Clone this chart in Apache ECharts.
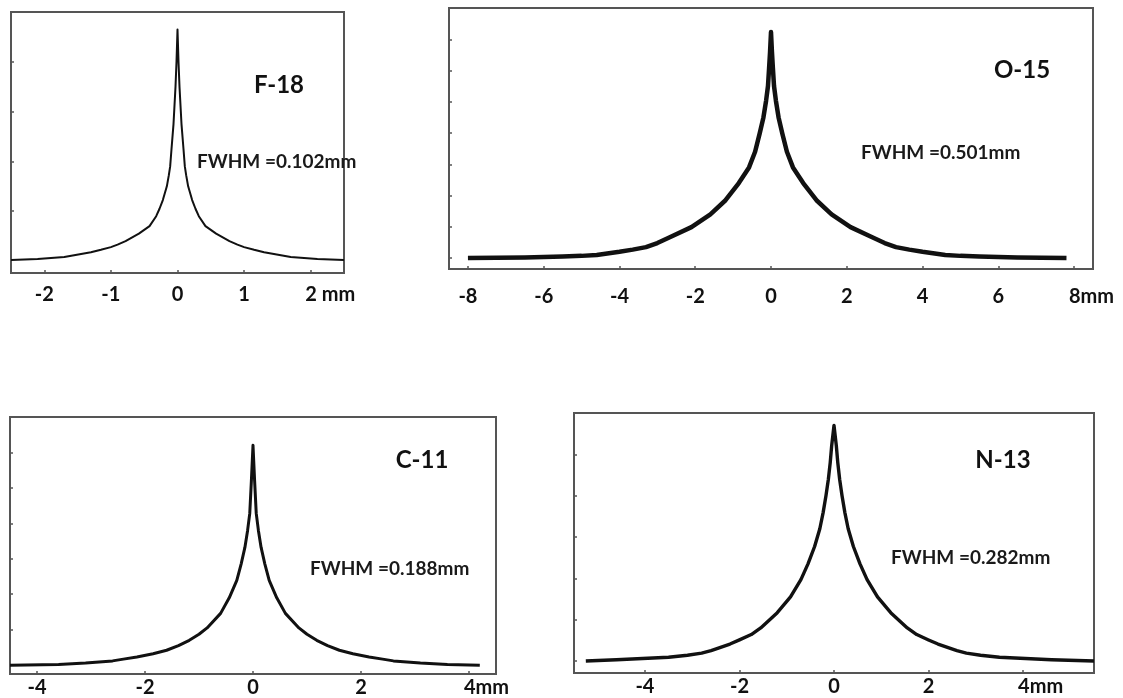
<!DOCTYPE html>
<html>
<head>
<meta charset="utf-8">
<title>Line spread functions</title>
<script src="https://cdn.jsdelivr.net/npm/echarts@6.0.0/dist/echarts.min.js"></script>
<style>
  html, body { margin: 0; padding: 0; background: #fff; }
  #main { width: 1123px; height: 698px; }
</style>
</head>
<body>
<div id="main"></div>
<script>
// profiles: x in mm, y in tick units above the baseline
var f18X = [-2.5, -2.1, -1.7, -1.3, -1.15, -1.0, -0.9, -0.78, -0.68, -0.58, -0.5, -0.42, -0.32, -0.27, -0.22, -0.16, -0.13, -0.11, -0.09, -0.06, -0.03, -0.015, 0, 0.015, 0.03, 0.06, 0.09, 0.11, 0.13, 0.16, 0.22, 0.27, 0.32, 0.42, 0.5, 0.58, 0.68, 0.78, 0.9, 1.0, 1.15, 1.3, 1.7, 2.1, 2.5];
var f18Y = [0.004, 0.008, 0.016, 0.035, 0.045, 0.056, 0.066, 0.08, 0.095, 0.11, 0.125, 0.14, 0.18, 0.21, 0.245, 0.30, 0.345, 0.38, 0.45, 0.55, 0.70, 0.80, 0.93, 0.80, 0.70, 0.55, 0.45, 0.38, 0.345, 0.30, 0.245, 0.21, 0.18, 0.14, 0.125, 0.11, 0.095, 0.08, 0.066, 0.056, 0.045, 0.035, 0.016, 0.008, 0.004];

var o15X = [-8, -6.5, -5.5, -5.0, -4.6, -4, -3.65, -3.3, -3.0, -2.7, -2.1, -1.6, -1.2, -0.85, -0.58, -0.42, -0.3, -0.2, -0.13, -0.08, -0.05, -0.025, 0, 0.025, 0.05, 0.08, 0.13, 0.2, 0.3, 0.42, 0.58, 0.85, 1.2, 1.6, 2.1, 2.7, 3.0, 3.3, 3.65, 4, 4.6, 5.0, 5.5, 6.5, 7.8];
var o15Y = [0.0, 0.02, 0.05, 0.07, 0.1, 0.2, 0.27, 0.35, 0.48, 0.65, 0.99, 1.4, 1.85, 2.4, 2.9, 3.4, 3.98, 4.5, 5.03, 5.5, 6.08, 6.6, 7.23, 6.6, 6.08, 5.5, 5.03, 4.5, 3.98, 3.4, 2.9, 2.4, 1.85, 1.4, 0.99, 0.65, 0.48, 0.35, 0.27, 0.2, 0.1, 0.07, 0.05, 0.02, 0.0];

var c11X = [-4.5, -3.6, -3.1, -2.6, -2.4, -2.15, -1.85, -1.6, -1.38, -1.18, -1.0, -0.85, -0.6, -0.44, -0.3, -0.22, -0.15, -0.1, -0.06, -0.03, 0, 0.03, 0.06, 0.1, 0.15, 0.22, 0.3, 0.44, 0.6, 0.85, 1.0, 1.18, 1.38, 1.6, 1.85, 2.15, 2.4, 2.6, 3.1, 3.6, 4.2];
var c11Y = [0.0, 0.02, 0.06, 0.12, 0.17, 0.23, 0.32, 0.42, 0.55, 0.7, 0.87, 1.05, 1.46, 1.9, 2.39, 2.85, 3.32, 3.8, 4.28, 5.2, 6.2, 5.2, 4.28, 3.8, 3.32, 2.85, 2.39, 1.9, 1.46, 1.05, 0.87, 0.7, 0.55, 0.42, 0.32, 0.23, 0.17, 0.12, 0.06, 0.02, 0.0];

var n13X = [-5.25, -4.6, -3.5, -3.1, -2.8, -2.6, -2.4, -2.2, -2.0, -1.75, -1.55, -1.2, -0.92, -0.7, -0.55, -0.41, -0.3, -0.23, -0.17, -0.12, -0.08, -0.05, 0, 0.05, 0.08, 0.12, 0.17, 0.23, 0.3, 0.41, 0.55, 0.7, 0.92, 1.2, 1.55, 1.75, 2.0, 2.2, 2.4, 2.6, 2.8, 3.1, 3.5, 4.6, 5.5];
var n13Y = [0.0, 0.03, 0.09, 0.14, 0.19, 0.25, 0.33, 0.41, 0.51, 0.64, 0.8, 1.17, 1.55, 1.97, 2.35, 2.77, 3.2, 3.59, 4.0, 4.39, 4.8, 5.2, 5.7, 5.2, 4.8, 4.39, 4.0, 3.59, 3.2, 2.77, 2.35, 1.97, 1.55, 1.17, 0.8, 0.64, 0.51, 0.41, 0.33, 0.25, 0.19, 0.14, 0.09, 0.03, 0.0];

// tick positions
var f18XTicks = [-2, -1, 0, 1, 2];
var f18YTicks = [0.2, 0.4, 0.6, 0.8];
var o15XTicks = [-8, -6, -4, -2, 0, 2, 4, 6, 8];
var o15YTicks = [0, 1, 2, 3, 4, 5, 6, 7];
var c11XTicks = [-4, -2, 0, 2, 4];
var c11YTicks = [0, 1, 2, 3, 4, 5, 6];
var n13XTicks = [-4, -2, 0, 2, 4];
var n13YTicks = [0, 1, 2, 3, 4, 5];

var nuclides = ['F-18', 'O-15', 'C-11', 'N-13'];
var fwhm = ['FWHM =0.102mm', 'FWHM =0.501mm', 'FWHM =0.188mm', 'FWHM =0.282mm'];

function pairs(xs, ys) {
    return xs.map(function (x, i) { return [x, ys[i]]; });
}

var font = 'Lato, "Open Sans", sans-serif';
var ink = '#111';

var panels = [
    { grid: { left: 11, top: 12, width: 333, height: 261 }, x: [-2.5, 2.5], y: [-0.048, 1.0],
      xTicks: f18XTicks, yTicks: f18YTicks, unit: ' mm', unitW: 39, margin: 12, lw: 2, data: pairs(f18X, f18Y),
      name: [279, 85], note: [197, 162] },
    { grid: { left: 449, top: 8, width: 644, height: 261 }, x: [-8.5, 8.5], y: [-0.35, 8],
      xTicks: o15XTicks, yTicks: o15YTicks, unit: 'mm', unitW: 35, margin: 18, lw: 4.5, data: pairs(o15X, o15Y),
      name: [1022, 70], note: [861, 153] },
    { grid: { left: 10, top: 417, width: 486, height: 257 }, x: [-4.5, 4.5], y: [-0.25, 7],
      xTicks: c11XTicks, yTicks: c11YTicks, unit: 'mm', unitW: 35, margin: 4, lw: 3, data: pairs(c11X, c11Y),
      name: [422, 460], note: [310, 569] },
    { grid: { left: 574, top: 413, width: 520, height: 260 }, x: [-5.5, 5.5], y: [-0.29, 6],
      xTicks: n13XTicks, yTicks: n13YTicks, unit: 'mm', unitW: 35, margin: 4, lw: 3.4, data: pairs(n13X, n13Y),
      name: [1003, 460], note: [891, 558] }
];

var myChart = echarts.init(document.getElementById('main'));

var grids = [], xAxes = [], yAxes = [], series = [], texts = [];
panels.forEach(function (p, i) {
    grids.push(Object.assign({ show: true, borderColor: '#555', borderWidth: 2, containLabel: false }, p.grid));
    var last = p.xTicks[p.xTicks.length - 1];
    xAxes.push({
        type: 'value', gridIndex: i, min: p.x[0], max: p.x[1],
        axisLine: { show: false, onZero: false },
        splitLine: { show: false },
        axisTick: { show: true, inside: true, length: 3, customValues: p.xTicks, lineStyle: { color: '#555', width: 1.5 } },
        axisLabel: {
            customValues: p.xTicks, margin: p.margin, color: ink,
            fontFamily: font, fontSize: 20, fontWeight: 'bold',
            formatter: function (v) {
                // number stays centred on its tick, unit hangs to the right
                if (v === last) return '{pad|}' + v + '{u|' + p.unit + '}';
                return String(v);
            },
            rich: {
                pad: { width: p.unitW },
                u: { fontFamily: font, fontSize: 20, fontWeight: 'bold', color: ink }
            }
        }
    });
    yAxes.push({
        type: 'value', gridIndex: i, min: p.y[0], max: p.y[1],
        axisLine: { show: false, onZero: false },
        splitLine: { show: false },
        axisLabel: { show: false },
        axisTick: { show: true, inside: true, length: 3, customValues: p.yTicks, lineStyle: { color: '#555', width: 1.5 } }
    });
    series.push({
        type: 'line', xAxisIndex: i, yAxisIndex: i, data: p.data,
        symbol: 'none', smooth: false, silent: true,
        lineStyle: { color: ink, width: p.lw, join: 'round' }
    });
    texts.push({
        type: 'text', x: p.name[0], y: p.name[1],
        style: { text: nuclides[i], fill: ink, fontFamily: font, fontSize: 24, fontWeight: 'bold', align: 'center', verticalAlign: 'middle' }
    });
    texts.push({
        type: 'text', x: p.note[0], y: p.note[1],
        style: { text: fwhm[i], fill: '#1a1a1a', fontFamily: font, fontSize: 19, fontWeight: 'bold', align: 'left', verticalAlign: 'middle' }
    });
});

var option = {
    backgroundColor: '#fff',
    animation: false,
    grid: grids,
    xAxis: xAxes,
    yAxis: yAxes,
    series: series,
    graphic: texts
};

myChart.setOption(option);
</script>
</body>
</html>
